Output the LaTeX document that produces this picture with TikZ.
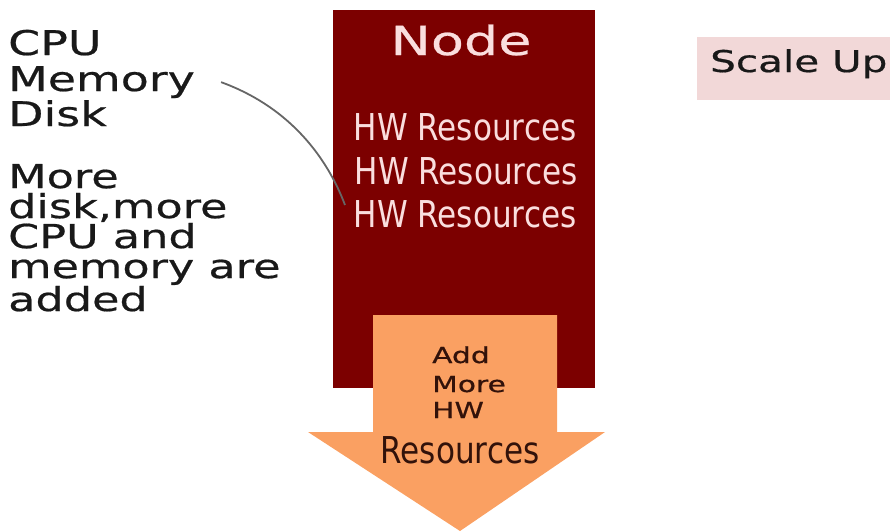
\documentclass[tikz,border=0pt]{standalone}
\usepackage{fontspec}
\usepackage{tikz}
\newfontfamily\wideface[FakeStretch=1.35, FakeBold=0.6]{DejaVu Sans}
\newfontfamily\narrowface[FakeStretch=0.84]{DejaVu Sans}
\definecolor{rougefonce}{RGB}{124,0,0}
\definecolor{orangeclair}{RGB}{250,160,98}
\definecolor{rosepale}{RGB}{242,216,216}
\definecolor{roseblanc}{RGB}{250,222,222}
\definecolor{brunfonce}{RGB}{50,18,10}

\begin{document}
\begin{tikzpicture}[x=1pt, y=-1pt]
			\tikzset{texte/.style={inner sep=0pt, anchor=base west, text=black!90}, centre/.style={inner sep=0pt, anchor=base}, lien/.style={draw=black!60, line width=1.8pt}};

			\useasboundingbox (0,0) rectangle (890,531);

			\node[draw=none, fill=rougefonce, minimum width=262pt, minimum height=378pt, inner sep=0pt, anchor=north west] (boite) at (333,10) {};
			\node[centre, text=roseblanc, font=\wideface\fontsize{40}{44}\selectfont] (titre) at (461,55) {Node};
			\node[centre, text=roseblanc, font=\narrowface\fontsize{37}{40}\selectfont] (hw1) at (465,140) {HW Resources};
			\node[centre, text=roseblanc, font=\narrowface\fontsize{37}{40}\selectfont] (hw2) at (466,184) {HW Resources};
			\node[centre, text=roseblanc, font=\narrowface\fontsize{37}{40}\selectfont] (hw3) at (465,227) {HW Resources};

			\coordinate (f1) at (373,315);
			\coordinate (f2) at (557,315);
			\coordinate (f3) at (557,432);
			\coordinate (f4) at (605,432);
			\coordinate (f5) at (460,531);
			\coordinate (f6) at (308,432);
			\coordinate (f7) at (373,432);
			\fill[orangeclair] (f1) -- (f2) -- (f3) -- (f4) -- (f5) -- (f6) -- (f7) -- cycle;

			\node[texte, text=brunfonce, font=\wideface\fontsize{22}{24}\selectfont] (add) at (432,363) {Add};
			\node[texte, text=brunfonce, font=\wideface\fontsize{22}{24}\selectfont] (more) at (432,392) {More};
			\node[texte, text=brunfonce, font=\wideface\fontsize{22}{24}\selectfont] (hw) at (432,418) {HW};
			\node[centre, text=brunfonce, font=\narrowface\fontsize{37}{40}\selectfont] (res) at (460,463) {Resources};

			\node[texte, font=\wideface\fontsize{34}{38}\selectfont] (cpu) at (8,55) {CPU};
			\node[texte, font=\wideface\fontsize{34}{38}\selectfont] (memory) at (8,91) {Memory};
			\node[texte, font=\wideface\fontsize{34}{38}\selectfont] (disk) at (8,126) {Disk};

			\node[texte, align=left, font=\wideface\fontsize{33}{30}\selectfont] (ajout) at (8,311) {More\\disk,more\\CPU and\\memory are\\added};

			\node[draw=none, fill=rosepale, minimum width=200pt, minimum height=63pt, inner sep=0pt, anchor=north west] (scale) at (697,37) {};
			\node[texte, font=\wideface\fontsize{30}{34}\selectfont] (scaletxt) at (710,72) {Scale Up};

			\coordinate (bout) at (345,205);
			\draw[lien] ([xshift=26pt]memory.east) .. controls (292,108) and (328,160) .. (bout);

		\end{tikzpicture}
\end{document}
